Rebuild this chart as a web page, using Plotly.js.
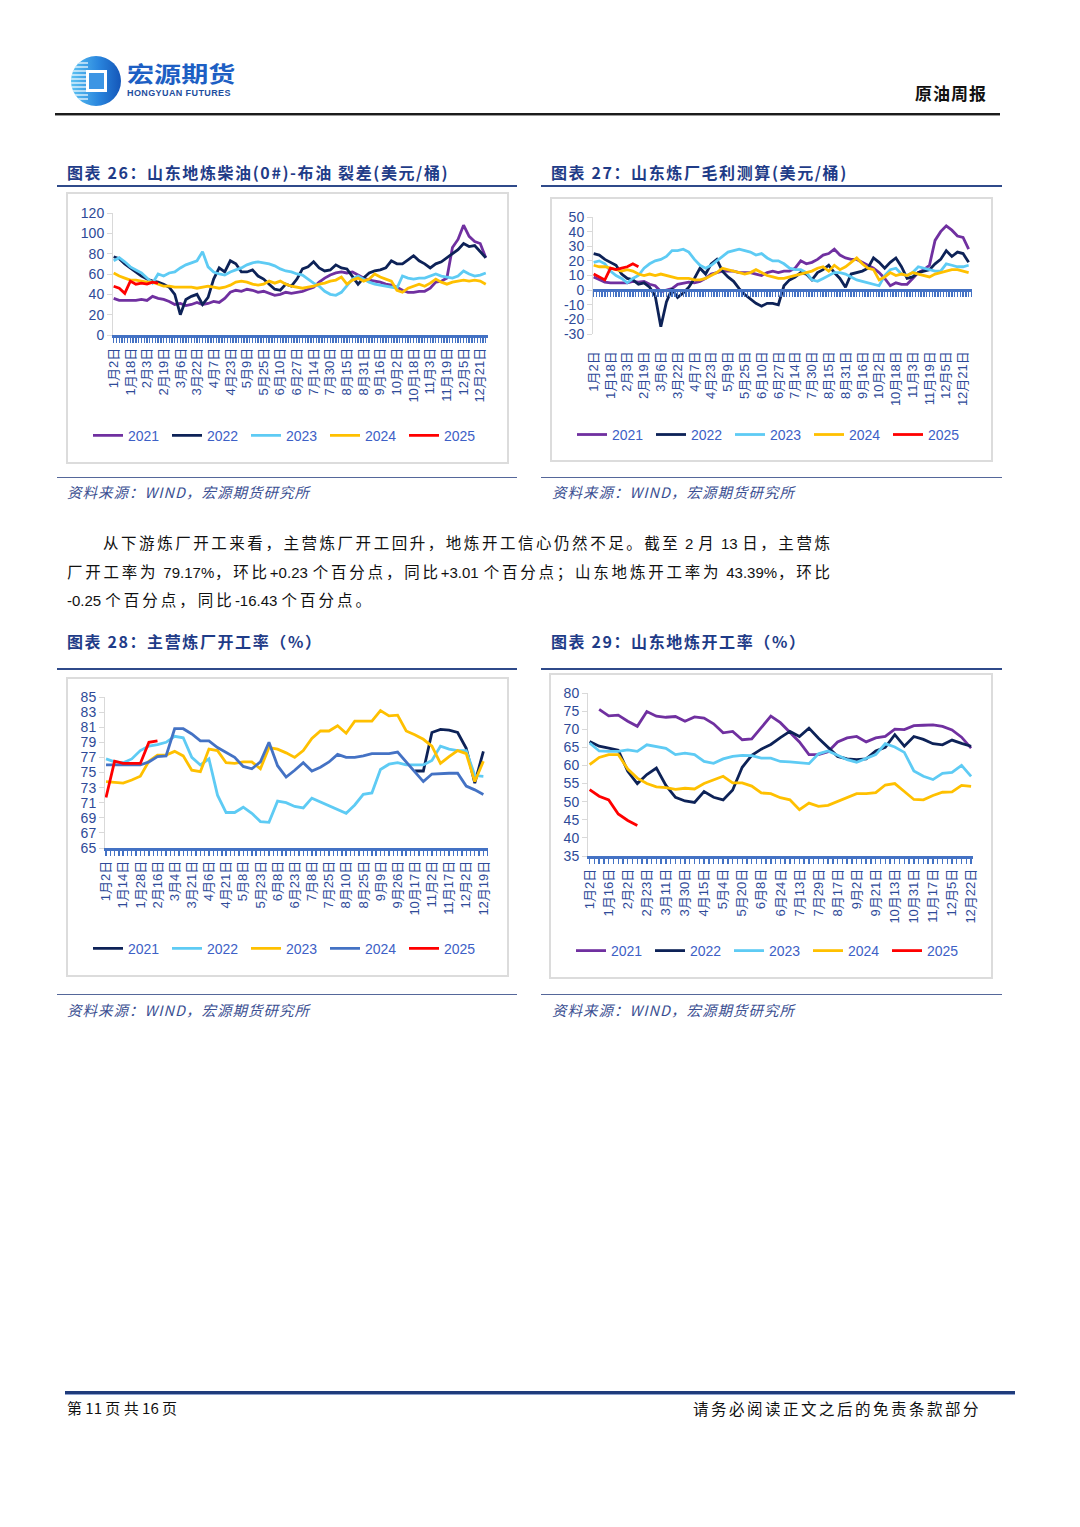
<!DOCTYPE html>
<html><head><meta charset="utf-8">
<script src="https://cdn.plot.ly/plotly-3.0.1.min.js"></script>
<style>
body{margin:0;background:#fff;}
#page{position:relative;width:1080px;height:1527px;overflow:hidden;background:#fff;font-family:"Noto Sans CJK SC",sans-serif;}
.a{position:absolute;white-space:nowrap;}
.ttl{position:absolute;font-size:16px;font-weight:bold;color:#1F3C88;letter-spacing:1.6px;white-space:nowrap;line-height:20px;}
.uline{position:absolute;height:2px;background:#2F4A8A;}
.bline{position:absolute;height:1px;background:#55679A;}
.src{position:absolute;font-size:14.5px;font-style:italic;color:#3B4F92;letter-spacing:1px;white-space:nowrap;line-height:18px;}
.chart{position:absolute;}
.frame{position:absolute;border:2px solid #DCDCDC;box-sizing:border-box;pointer-events:none;}
.para{position:absolute;font-size:15.5px;letter-spacing:2px;color:#111;line-height:20px;}
.para .n{letter-spacing:0;font-family:'Liberation Sans',Arial,sans-serif;font-size:15px;}
.just{text-align:justify;text-align-last:justify;}
</style></head>
<body>
<div id="page">
  <!-- header -->
  <svg class="a" style="left:68px;top:54px" width="56" height="54" viewBox="0 0 56 54">
    <defs>
      <linearGradient id="lg" x1="0" y1="0" x2="1" y2="0">
        <stop offset="0" stop-color="#5CC3F2"/><stop offset="0.55" stop-color="#2A86DE"/><stop offset="1" stop-color="#1456B8"/>
      </linearGradient>
      <clipPath id="cc"><circle cx="28" cy="27" r="25"/></clipPath>
    </defs>
    <circle cx="28" cy="27" r="25" fill="url(#lg)"/>
    <g clip-path="url(#cc)" stroke="#ffffff" stroke-width="1.6" opacity="0.75">
      <line x1="0" y1="9" x2="20" y2="9"/><line x1="0" y1="13" x2="20" y2="13"/><line x1="0" y1="17" x2="20" y2="17"/>
      <line x1="0" y1="21" x2="20" y2="21"/><line x1="0" y1="25" x2="20" y2="25"/><line x1="0" y1="29" x2="20" y2="29"/>
      <line x1="0" y1="33" x2="20" y2="33"/><line x1="0" y1="37" x2="20" y2="37"/><line x1="0" y1="41" x2="20" y2="41"/><line x1="0" y1="45" x2="20" y2="45"/>
    </g>
    <rect x="18" y="16" width="21" height="22" fill="#ffffff"/>
    <rect x="21" y="19" width="15" height="16" fill="#3C95E4"/>
  </svg>
  <div class="a" style="left:127px;top:61px;font-size:21.5px;font-weight:bold;color:#1D5FC4;line-height:24px;transform:scaleX(1.26);transform-origin:0 0;">宏源期货</div>
  <div class="a" style="left:127px;top:88px;font-size:9px;font-weight:bold;color:#1E4E9E;letter-spacing:0.4px;font-family:'Liberation Sans',Arial,sans-serif;line-height:10px;">HONGYUAN FUTURES</div>
  <div class="a" style="left:915px;top:82px;font-size:17px;font-weight:bold;color:#111;letter-spacing:1px;line-height:22px;">原油周报</div>
  <div class="a" style="left:55px;top:113px;width:945px;height:2px;background:#1c1c1c;"></div>
  <div class="a" style="left:55px;top:115px;width:945px;height:1px;background:#9a9a9a;"></div>

  <!-- chart 26 -->
  <div class="ttl" style="left:67px;top:162px;">图表 26：山东地炼柴油(0#)-布油 裂差(美元/桶)</div>
  <div class="uline" style="left:57px;top:185px;width:460px;"></div>
  <div id="c26" class="chart" style="left:66px;top:192px;width:443px;height:272px;"></div>
  <div class="frame" style="left:66px;top:192px;width:443px;height:272px;"></div>
  <div class="bline" style="left:57px;top:477px;width:460px;"></div>
  <div class="src" style="left:67px;top:483px;">资料来源：WIND，宏源期货研究所</div>

  <!-- chart 27 -->
  <div class="ttl" style="left:551px;top:162px;">图表 27：山东炼厂毛利测算(美元/桶)</div>
  <div class="uline" style="left:541px;top:185px;width:461px;"></div>
  <div id="c27" class="chart" style="left:550px;top:197px;width:443px;height:265px;"></div>
  <div class="frame" style="left:550px;top:197px;width:443px;height:265px;"></div>
  <div class="bline" style="left:541px;top:477px;width:461px;"></div>
  <div class="src" style="left:552px;top:483px;">资料来源：WIND，宏源期货研究所</div>

  <!-- paragraph -->
  <div class="para just" style="left:103px;top:532px;width:729px;">从下游炼厂开工来看，主营炼厂开工回升，地炼开工信心仍然不足。截至<span class="n"> 2 </span>月<span class="n"> 13 </span>日，主营炼</div>
  <div class="para just" style="left:67px;top:561px;width:765px;">厂开工率为<span class="n"> 79.17%</span>，环比<span class="n">+0.23 </span>个百分点，同比<span class="n">+3.01 </span>个百分点；山东地炼开工率为<span class="n"> 43.39%</span>，环比</div>
  <div class="para" style="left:67px;top:589px;white-space:nowrap;letter-spacing:3px;"><span class="n">-0.25 </span>个百分点，同比<span class="n">-16.43 </span>个百分点。</div>

  <!-- chart 28 -->
  <div class="ttl" style="left:67px;top:631px;">图表 28：主营炼厂开工率（%）</div>
  <div class="uline" style="left:57px;top:668px;width:460px;"></div>
  <div id="c28" class="chart" style="left:66px;top:677px;width:443px;height:300px;"></div>
  <div class="frame" style="left:66px;top:677px;width:443px;height:300px;"></div>
  <div class="bline" style="left:57px;top:994px;width:460px;"></div>
  <div class="src" style="left:67px;top:1001px;">资料来源：WIND，宏源期货研究所</div>

  <!-- chart 29 -->
  <div class="ttl" style="left:551px;top:631px;">图表 29：山东地炼开工率（%）</div>
  <div class="uline" style="left:541px;top:668px;width:461px;"></div>
  <div id="c29" class="chart" style="left:549px;top:673px;width:444px;height:306px;"></div>
  <div class="frame" style="left:549px;top:673px;width:444px;height:306px;"></div>
  <div class="bline" style="left:541px;top:994px;width:461px;"></div>
  <div class="src" style="left:552px;top:1001px;">资料来源：WIND，宏源期货研究所</div>

  <!-- footer -->
  <div class="a" style="left:65px;top:1391px;width:950px;height:3px;background:#1F3B7B;"></div>
  <div class="a" style="left:65px;top:1394px;width:950px;height:1px;background:#8FA3CF;"></div>
  <div class="a" style="left:67px;top:1398px;font-size:15px;color:#111;line-height:20px;">第 11 页 共 16 页</div>
  <div class="a" style="left:693px;top:1398px;font-size:15.5px;color:#111;letter-spacing:2.5px;line-height:20px;">请务必阅读正文之后的免责条款部分</div>
</div>

<script>
// ---------- categories ----------
const dates26 = ['1月2日','1月7日','1月13日','1月18日','1月23日','1月29日','2月3日','2月8日','2月14日','2月19日','2月24日','3月1日','3月6日','3月11日','3月17日','3月22日','3月27日','4月2日','4月7日','4月12日','4月18日','4月23日','4月28日','5月4日','5月9日','5月14日','5月20日','5月25日','5月30日','6月5日','6月10日','6月16日','6月21日','6月27日','7月3日','7月8日','7月14日','7月19日','7月25日','7月30日','8月4日','8月10日','8月15日','8月20日','8月26日','8月31日','9月5日','9月11日','9月16日','9月21日','9月27日','10月2日','10月7日','10月13日','10月18日','10月23日','10月29日','11月3日','11月8日','11月14日','11月19日','11月24日','11月30日','12月5日','12月10日','12月16日','12月21日','12月26日'];
const ticks26 = ['1月2日','1月18日','2月3日','2月19日','3月6日','3月22日','4月7日','4月23日','5月9日','5月25日','6月10日','6月27日','7月14日','7月30日','8月15日','8月31日','9月16日','10月2日','10月18日','11月3日','11月19日','12月5日','12月21日'];

const dates28 = ['1月2日','1月8日','1月14日','1月21日','1月28日','2月7日','2月16日','2月24日','3月4日','3月12日','3月21日','3月29日','4月6日','4月13日','4月21日','4月29日','5月8日','5月15日','5月23日','5月31日','6月8日','6月15日','6月23日','6月30日','7月8日','7月16日','7月25日','8月2日','8月10日','8月17日','8月25日','9月2日','9月9日','9月17日','9月26日','10月8日','10月17日','10月25日','11月2日','11月9日','11月17日','11月24日','12月2日','12月10日','12月19日'];
const ticks28 = ['1月2日','1月14日','1月28日','2月16日','3月4日','3月21日','4月6日','4月21日','5月8日','5月23日','6月8日','6月23日','7月8日','7月25日','8月10日','8月25日','9月9日','9月26日','10月17日','11月2日','11月17日','12月2日','12月19日'];

const dates29 = ['1月2日','1月9日','1月16日','1月25日','2月2日','2月13日','2月23日','3月3日','3月11日','3月20日','3月30日','4月7日','4月15日','4月24日','5月4日','5月12日','5月20日','5月29日','6月8日','6月16日','6月24日','7月3日','7月13日','7月21日','7月29日','8月8日','8月17日','8月25日','9月2日','9月11日','9月21日','10月1日','10月13日','10月22日','10月31日','11月8日','11月17日','11月26日','12月5日','12月13日','12月22日'];
const ticks29 = ['1月2日','1月16日','2月2日','2月23日','3月11日','3月30日','4月15日','5月4日','5月20日','6月8日','6月24日','7月13日','7月29日','8月17日','9月2日','9月21日','10月13日','10月31日','11月17日','12月5日','12月22日'];

// ---------- chart 26: diesel crack (USD/bbl) ----------
const c26_2021 = [36,34,34,34,34,35,34,38,36,35,33,30,31,29,30,32,30,31,33,32,36,42,44,43,45,44,42,43,41,39,40,42,41,42,43,45,47,52,56,59,61,62,61,62,59,56,54,53,52,50,49,47,44,42,42,43,43,46,52,53,56,86,94,108,97,92,90,76];
const c26_2022 = [77,75,70,66,62,58,55,53,52,50,47,40,20,35,38,40,30,37,55,66,62,73,70,62,62,64,58,55,50,45,44,50,48,55,65,67,72,66,63,64,69,66,65,57,50,56,61,63,64,66,73,70,70,74,78,73,70,66,70,72,76,80,84,90,87,88,82,76];
const c26_2023 = [73,76,72,67,64,61,56,51,60,58,61,62,66,69,71,73,82,67,62,60,59,62,64,66,69,71,72,71,70,68,65,63,62,60,59,55,51,48,43,40,39,42,48,55,58,55,52,50,49,48,47,46,58,56,55,56,56,58,60,58,57,56,58,63,60,58,59,61];
const c26_2024 = [61,58,56,54,54,53,52,52,50,48,48,47,47,47,47,46,47,48,47,46,47,49,52,53,52,50,49,50,53,51,53,50,48,47,46,47,48,50,51,53,54,57,50,54,56,53,55,60,57,55,53,44,42,46,48,50,48,51,55,52,50,52,53,54,53,54,53,50];
const c26_2025 = [48,46,41,53,50,51,50,52,51];

// ---------- chart 27: refinery margin (USD/bbl) ----------
const c27_2021 = [9,7,5.5,5,5,5.5,5,6,5.5,6,4,3,-1,0,1,4,5,5.5,5,6,8,11,12,13,13,13,12,12,12,11,10,12,13,12,13,13,15,20,18,19,21,24,25,28,24,22,21,21,19,17,15,12,8,3,5,4,4,8,12,14,17,34,40,44,41,37,36,28];
const c27_2022 = [25,24,21,19,17,11,8,7,4,5,2,-4,-25,-8,1,-5,-2,2,8,15,11,18,21,13,9,6,1,-3,-6,-9,-11,-9,-9,-10,3,7,9,12,11,7,12,14,17,12,8,2,11,12,13,15,22,19,15,19,22,16,8,9,12,13,14,18,21,27,23,26,25,19];
const c27_2023 = [19,20,18,13,10,8,5,8,10,15,18,20,21,23,27,27,28,26,21,17,15,17,20,23,26,27,28,27,26,24,25,22,20,20,18,15,14,14,12,7,6,8,10,12,12,11,9,7,6,5,4,3,10,14,15,11,10,12,16,15,14,13,13,18,17,16,16,17];
const c27_2024 = [17,16,16,15,14,13,14,13,11,10,11,10,11,10,9,8,8,8,7,7,8,10,12,15,14,13,12,11,12,14,12,10,9,8,8,9,10,11,12,13,15,16,13,17,14,16,19,22,18,15,14,7,9,12,10,11,10,12,11,10,9,11,12,13,14,14,13,12];
const c27_2025 = [11,9,7,15,14,15,16,18,16];

// ---------- chart 28: main refinery run rate (%) ----------
const c28_2021_start = '10月17日';
const c28_2021 = [75.2,75.2,80.3,80.7,80.6,80.3,78.2,73.6,77.8];
const c28_2022 = [76.8,76.4,76.3,76.8,77.9,78.5,78.7,79.0,79.8,79.6,77.0,76.0,76.8,72.0,69.7,69.7,70.4,69.6,68.5,68.4,71.2,71.0,70.5,70.3,71.6,71.1,70.6,70.2,69.6,70.7,72.1,72.3,75.4,76.1,76.3,76.0,76.0,76.0,76.6,78.5,78.1,77.9,77.9,74.6,74.5];
const c28_2023 = [73.8,73.7,73.6,74.0,74.5,76.5,77.3,77.3,77.8,77.2,75.3,75.1,78.1,77.9,76.3,76.2,76.4,76.4,75.5,78.3,78.1,77.6,77.0,77.9,79.5,80.5,80.5,81.2,80.2,81.8,81.8,81.8,83.2,82.5,82.6,80.5,80.0,79.4,78.5,76.2,77.1,77.9,77.5,73.8,76.5];
const c28_2024 = [76.0,76.0,76.0,76.0,76.0,76.4,77.1,77.2,80.8,80.8,80.1,79.2,79.2,78.3,77.7,77.0,75.8,75.5,76.4,79.0,75.9,74.4,75.3,76.3,75.2,75.7,76.4,77.4,77.0,77.0,77.2,77.5,77.5,77.5,77.7,76.4,75.0,73.8,74.8,74.9,74.9,74.9,73.2,72.7,72.1];
const c28_2025 = [71.7,76.5,76.2,76.2,76.2,79.0,79.2];

// ---------- chart 29: Shandong independent refinery run rate (%) ----------
const c29_2021_start = '1月9日';
const c29_2021 = [75.5,73.7,73.9,72.2,70.8,74.9,73.6,73.3,73.5,72.2,73.4,73.1,71.5,69.0,69.4,67.1,67.3,70.5,73.6,71.8,69.2,66.5,63.0,63.0,63.8,66.5,67.6,68.0,66.5,67.6,68.0,70.0,69.9,71.0,71.1,71.2,70.8,69.8,67.8,64.8];
const c29_2022 = [66.6,65.3,64.8,64.2,58.4,55.0,57.5,59.3,54.5,51.2,50.2,49.8,52.8,51.2,50.5,53.2,59.5,62.8,64.5,65.8,67.7,69.4,68.0,70.3,67.5,65.0,62.5,61.8,61.6,61.8,64.0,65.0,68.5,65.3,68.0,67.2,66.0,65.7,67.0,66.1,65.3];
const c29_2023 = [66.2,64.0,63.9,63.9,64.3,63.9,65.7,65.3,64.7,63.0,63.4,63.0,61.1,60.6,61.8,62.5,62.8,62.7,62.0,62.0,61.1,61.0,60.8,60.5,63.2,64.0,62.8,61.6,60.9,62.0,63.0,66.0,65.1,63.6,58.5,57.0,56.1,57.8,58.1,60.0,57.0];
const c29_2024 = [60.2,62.2,63.0,63.0,59.0,56.5,55.0,54.1,53.9,53.4,53.7,53.5,55.0,55.9,57.0,55.2,55.2,54.3,52.4,52.2,51.1,50.5,47.8,49.6,48.7,49.0,50.0,51.1,52.2,52.2,52.5,54.6,55.0,52.8,50.6,50.5,51.7,52.6,52.7,54.5,54.2];
const c29_2025 = [53.3,51.5,50.5,46.6,44.8,43.4];

const years = ['2021','2022','2023','2024','2025'];
const colA = ['#7030A0','#0D2257','#5ECBF4','#FFC000','#FF0000'];
const colB = ['#0D2257','#5ECBF4','#FFC000','#4472C4','#FF0000'];

const yTicks26 = [0,20,40,60,80,100,120];
const yTicks27 = [-30,-20,-10,0,10,20,30,40,50];
const yTicks28 = [65,67,69,71,73,75,77,79,81,83,85];
const yTicks29 = [35,40,45,50,55,60,65,70,75,80];

// ---------- drawing ----------
const FONT = "'Liberation Sans', Arial, 'Noto Sans CJK SC', sans-serif";
const AX_BLUE = '#4472C4';
const LBL = '#2E4A98';
const LEG = '#3D60C6';

function buildChart(id, c){
  const idx = c.dates.map((d,i)=>i);
  const traces = c.series.map((vals,i)=>{
    const st = c.dates.indexOf((c.starts && c.starts[i]) || c.dates[0]);
    return {type:'scatter', mode:'lines', name:years[i], x:idx.slice(st, st+vals.length), y:vals,
            line:{color:c.colors[i], width:2.8}, hoverinfo:'skip'};
  });
  const tickvals = c.tickLabels.map(l=>c.dates.indexOf(l));
  const plotW = c.w - c.m.l - c.m.r, plotH = c.h - c.m.t - c.m.b;
  const tickStyle = {ticks:'outside', ticklen:5, tickwidth:1.4, tickcolor:AX_BLUE};
  const minor = {tickmode:'linear', tick0:0, dtick:c.minor, ticks:'outside', ticklen:5, tickwidth:1.4, tickcolor:AX_BLUE, showgrid:false};
  const layout = {
    width:c.w, height:c.h, margin:{l:c.m.l, r:c.m.r, t:c.m.t, b:c.m.b, pad:0},
    paper_bgcolor:'#ffffff', plot_bgcolor:'#ffffff', font:{family:FONT, color:LBL},
    showlegend:true,
    legend:{orientation:'h', x:(c.leg.left - c.m.l)/plotW, xanchor:'left',
            y:-(c.leg.cy - (c.h - c.m.b))/plotH, yanchor:'middle',
            font:{size:14, color:LEG, family:FONT}, bgcolor:'rgba(0,0,0,0)', traceorder:'normal', itemwidth:30,
            entrywidth:34, entrywidthmode:'pixels'},
    xaxis:{type:'linear', range:c.xr, tickmode:'array', tickvals:tickvals, ticktext:c.tickLabels, tickangle:-90,
           tickfont:{size:13, color:LBL, family:FONT}, showgrid:false, zeroline:false, automargin:false},
    yaxis:{range:c.yr, tickmode:'array', tickvals:c.yTicks, ticktext:c.yTicks.map(String),
           tickfont:{size:14, color:LBL, family:FONT}, showgrid:false, zeroline:false, showline:true,
           linecolor:'#D9D9D9', linewidth:1, ticks:'outside', ticklen:5, tickcolor:'#D9D9D9', automargin:false}
  };
  if(c.zeroAxis){
    Object.assign(layout.xaxis, {showline:false, ticks:'outside', ticklen:c.labelGap, tickcolor:'rgba(0,0,0,0)'});
    layout.xaxis2 = Object.assign({type:'linear', overlaying:'x', anchor:'free',
      position:(0 - c.yr[0])/(c.yr[1] - c.yr[0]), range:c.xr, tickmode:'array', tickvals:tickvals,
      showticklabels:false, showline:true, linecolor:AX_BLUE, linewidth:2.5, showgrid:false, zeroline:false,
      automargin:false, minor:minor}, tickStyle);
    traces.push({type:'scatter', mode:'lines', x:idx, y:idx.map(()=>null), xaxis:'x2', yaxis:'y',
                 showlegend:false, hoverinfo:'skip'});
  } else {
    Object.assign(layout.xaxis, {showline:true, linecolor:AX_BLUE, linewidth:2.5, minor:minor}, tickStyle);
  }
  Plotly.newPlot(id, traces, layout, {staticPlot:true, displayModeBar:false});
}

buildChart('c26', {dates:dates26, tickLabels:ticks26, series:[c26_2021,c26_2022,c26_2023,c26_2024,c26_2025],
  colors:colA, w:443, h:272, m:{l:47,r:21,t:21,b:125}, xr:[-0.12,67.4], yr:[0,120], yTicks:yTicks26,
  minor:0.5, leg:{left:22, cy:251}});

buildChart('c27', {dates:dates26, tickLabels:ticks26, series:[c27_2021,c27_2022,c27_2023,c27_2024,c27_2025],
  colors:colA, w:443, h:265, m:{l:43,r:21,t:20,b:125}, xr:[-0.12,67.6], yr:[-30,50], yTicks:yTicks27,
  minor:0.5, leg:{left:22, cy:243.5}, zeroAxis:true, labelGap:11});

buildChart('c28', {dates:dates28, tickLabels:ticks28, series:[c28_2021,c28_2022,c28_2023,c28_2024,c28_2025],
  starts:[c28_2021_start], colors:colB, w:443, h:300, m:{l:39,r:21,t:20,b:125}, xr:[-0.12,44.54], yr:[65,85],
  yTicks:yTicks28, minor:0.5, leg:{left:22, cy:278.5}});

buildChart('c29', {dates:dates29, tickLabels:ticks29, series:[c29_2021,c29_2022,c29_2023,c29_2024,c29_2025],
  starts:[c29_2021_start], colors:colA, w:444, h:306, m:{l:39,r:20,t:20,b:123}, xr:[-0.17,40.2], yr:[35,80],
  yTicks:yTicks29, minor:0.5, leg:{left:22, cy:278}});
</script>
</body></html>
